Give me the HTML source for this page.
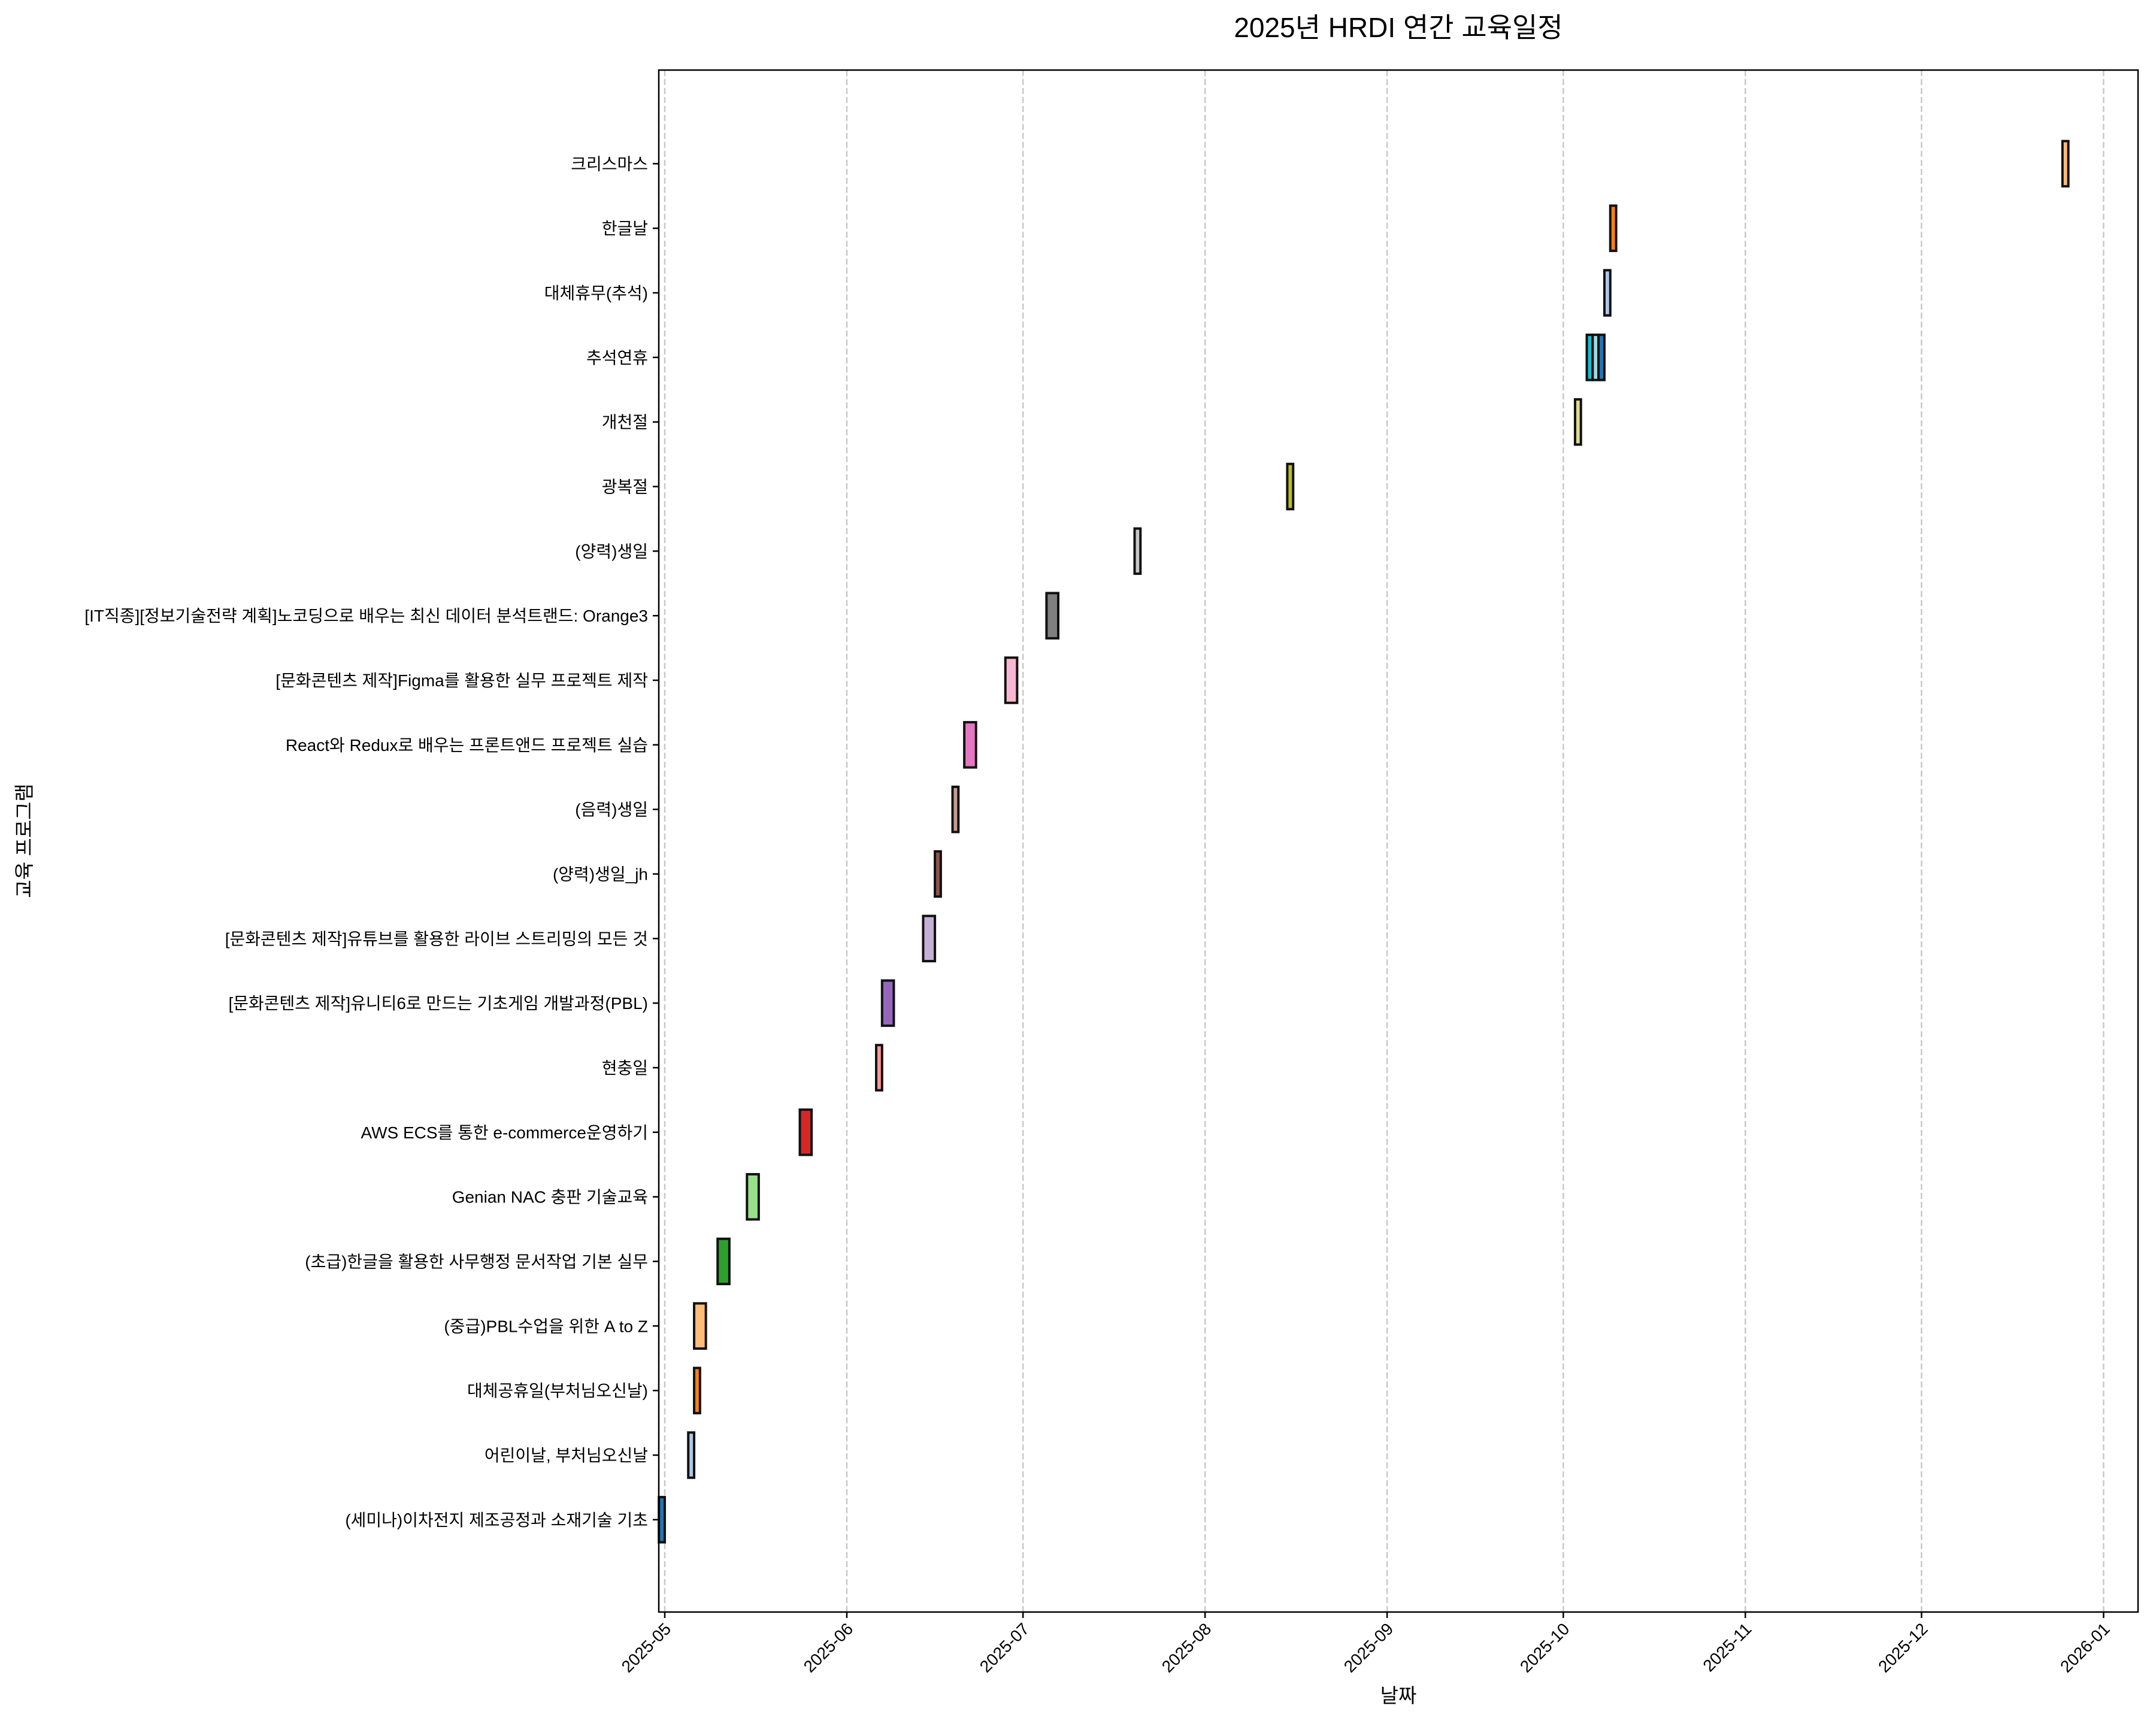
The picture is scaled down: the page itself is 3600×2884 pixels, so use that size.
<!DOCTYPE html>
<html><head><meta charset="utf-8">
<style>
html,body{margin:0;padding:0;background:#fff;}
svg text{font-family:"Liberation Sans","Noto Sans CJK KR",sans-serif;}
</style></head>
<body>
<svg id="chart" xmlns="http://www.w3.org/2000/svg" width="3600" height="2879" viewBox="0 0 3600 2879">
<rect width="3600" height="2879" fill="#fff"/>
<text x="2335" y="62" font-size="46" text-anchor="middle">2025년 HRDI 연간 교육일정</text>
<g id="grid"></g>
<g id="bars"></g>
<rect x="1100" y="117" width="2470" height="2575" fill="none" stroke="#000" stroke-width="2.5"/>
<g id="yaxis"></g>
<g id="xaxis"></g>
<text x="2335" y="2843" font-size="33" text-anchor="middle">날짜</text>
<text x="0" y="0" font-size="33" text-anchor="middle" transform="translate(52,1404) rotate(-90)">교육 프로그램</text>
</svg>
<script>
const rowLabels = ["(세미나)이차전지 제조공정과 소재기술 기초","어린이날, 부처님오신날","대체공휴일(부처님오신날)","(중급)PBL수업을 위한 A to Z","(초급)한글을 활용한 사무행정 문서작업 기본 실무","Genian NAC 충판 기술교육","AWS ECS를 통한 e-commerce운영하기","현충일","[문화콘텐츠 제작]유니티6로 만드는 기초게임 개발과정(PBL)","[문화콘텐츠 제작]유튜브를 활용한 라이브 스트리밍의 모든 것","(양력)생일_jh","(음력)생일","React와 Redux로 배우는 프론트앤드 프로젝트 실습","[문화콘텐츠 제작]Figma를 활용한 실무 프로젝트 제작","[IT직종][정보기술전략 계획]노코딩으로 배우는 최신 데이터 분석트랜드: Orange3","(양력)생일","광복절","개천절","추석연휴","대체휴무(추석)","한글날","크리스마스"];
const eventRows = [0,1,2,3,4,5,6,7,8,9,10,11,12,13,14,15,16,17,18,18,18,19,20,21];
const eventStarts = ["2025-04-30","2025-05-05","2025-05-06","2025-05-06","2025-05-10","2025-05-15","2025-05-24","2025-06-06","2025-06-07","2025-06-14","2025-06-16","2025-06-19","2025-06-21","2025-06-28","2025-07-05","2025-07-20","2025-08-15","2025-10-03","2025-10-05","2025-10-06","2025-10-07","2025-10-08","2025-10-09","2025-12-25"];
const eventDays = [1,1,1,2,2,2,2,1,2,2,1,1,2,2,2,1,1,1,1,1,1,1,1,1];
const xTicks = ["2025-05","2025-06","2025-07","2025-08","2025-09","2025-10","2025-11","2025-12","2026-01"];
const colors = ["#1f77b4","#aec7e8","#ff7f0e","#ffbb78","#2ca02c","#98df8a","#d62728","#ff9896","#9467bd","#c5b0d5","#8c564b","#c49c94","#e377c2","#f7b6d2","#7f7f7f","#c7c7c7","#bcbd22","#dbdb8d","#17becf","#9edae5"];

const NS="http://www.w3.org/2000/svg";
const L=1100,R=3570,T=117,B=2692;
const base=Date.UTC(2025,4,1);
const pxDay=9.806, x0=1110;
function dayOf(s){const p=s.split("-").map(Number);return (Date.UTC(p[0],p[1]-1,p[2]||1)-base)/86400000;}
function xs(d){return x0+d*pxDay;}
const yMin=-1.43,yMax=22.45;
function ys(v){return B-(v-yMin)/(yMax-yMin)*(B-T);}
function mk(tag,attrs,parent){const e=document.createElementNS(NS,tag);for(const k in attrs)e.setAttribute(k,attrs[k]);parent.appendChild(e);return e;}

const grid=document.getElementById('grid'),xa=document.getElementById('xaxis'),ya=document.getElementById('yaxis'),bars=document.getElementById('bars');
xTicks.forEach(t=>{
  const x=xs(dayOf(t));
  const g=mk('line',{x1:x,x2:x,y1:T,y2:B,stroke:'#c8c8c8','stroke-width':2.5,'stroke-dasharray':'10,5'},grid);
  
  
  const tk=mk('line',{x1:x,x2:x,y1:B,y2:B+10,stroke:'#000','stroke-width':2.5},xa);
  
  
  const tx=mk('text',{x:0,y:0,'font-size':28,'text-anchor':'end',transform:`translate(${x+12},${B+30}) rotate(-45)`},xa);
  
  
  tx.textContent=t;
});
rowLabels.forEach((lab,i)=>{
  const y=ys(i);
  const tk=mk('line',{x1:L-10,x2:L,y1:y,y2:y,stroke:'#000','stroke-width':2.5},ya);
  
  
  const tx=mk('text',{x:L-18,y:y+10,'font-size':28,'text-anchor':'end'},ya);
  
  
  tx.textContent=lab;
});
const h=0.7;
eventStarts.forEach((s,i)=>{
  const d=dayOf(s), r=eventRows[i];
  const xa1=xs(d), xa2=xs(d+eventDays[i]);
  const y1=ys(r+h/2), y2=ys(r-h/2);
  const b=mk('rect',{x:xa1,y:y1,width:xa2-xa1,height:y2-y1,fill:colors[i%20],stroke:'#111','stroke-width':4},bars);
  
  
});
</script>
</body></html>
